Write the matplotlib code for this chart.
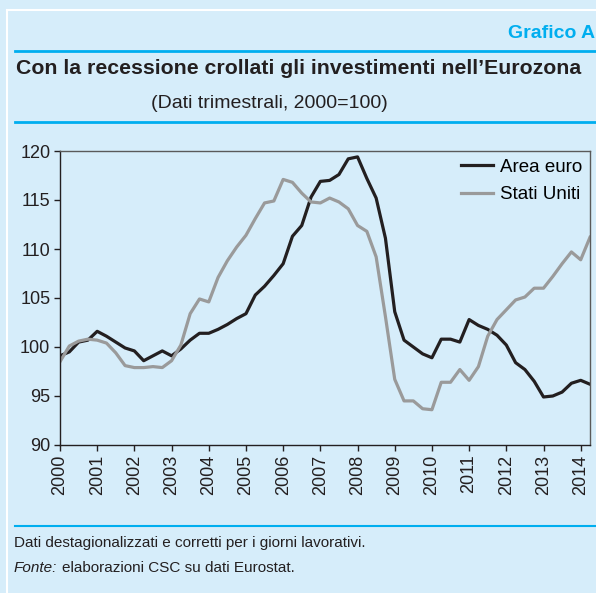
import matplotlib.pyplot as plt
import numpy as np
from matplotlib.lines import Line2D

plt.rcParams['font.family'] = ['Liberation Sans', 'DejaVu Sans']

# dati trimestrali, 2000 Q1 - 2014 Q2
quarters = np.arange(2000, 2014.26, 0.25)

area_euro = [99.1, 99.5, 100.5, 100.7, 101.6, 101.1, 100.5, 99.9,
             99.6, 98.6, 99.1, 99.6, 99.1, 99.8, 100.7, 101.4,
             101.4, 101.8, 102.3, 102.9, 103.4, 105.3, 106.2, 107.3,
             108.5, 111.3, 112.4, 115.3, 116.9, 117.0, 117.6, 119.2,
             119.4, 117.2, 115.2, 111.1, 103.6, 100.7, 100.0, 99.3,
             98.9, 100.8, 100.8, 100.5, 102.8, 102.2, 101.8, 101.2,
             100.2, 98.4, 97.7, 96.5, 94.9, 95.0, 95.4, 96.3,
             96.6, 96.2]

stati_uniti = [98.5, 100.1, 100.6, 100.8, 100.7, 100.4, 99.4, 98.1,
               97.9, 97.9, 98.0, 97.9, 98.6, 100.2, 103.4, 104.9,
               104.6, 107.1, 108.8, 110.2, 111.4, 113.1, 114.7, 114.9,
               117.1, 116.8, 115.7, 114.8, 114.7, 115.2, 114.8, 114.1,
               112.4, 111.8, 109.2, 103.1, 96.7, 94.5, 94.5, 93.7,
               93.6, 96.4, 96.4, 97.7, 96.6, 98.0, 101.1, 102.8,
               103.8, 104.8, 105.1, 106.0, 106.0, 107.2, 108.5, 109.7,
               108.9, 111.2]

anni = list(range(2000, 2015))

bg = '#d6edfa'
blu = '#00aeef'
nero = '#231f20'

W, H = 596, 593

def fx(px):
    return px / W

def fy(py):
    return 1 - py / H

fig = plt.figure(figsize=(5.96, 5.93), dpi=100)
fig.patch.set_facecolor(bg)

# cornice bianca
fig.add_artist(Line2D([fx(7), 1], [fy(9.5)] * 2, color='white', linewidth=1.5))
fig.add_artist(Line2D([fx(7)] * 2, [0, fy(9.5)], color='white', linewidth=1.5))

# intestazione
fig.text(fx(595), fy(33), 'Grafico A', ha='right', va='center',
         fontsize=14, fontweight='bold', color=blu)
fig.add_artist(Line2D([fx(15), 1], [fy(51)] * 2, color=blu, linewidth=2))
fig.text(fx(16), fy(68), 'Con la recessione crollati gli investimenti nell\u2019Eurozona',
         ha='left', va='center', fontsize=15.3, fontweight='bold', color=nero)
fig.text(fx(269), fy(103), '(Dati trimestrali, 2000=100)', ha='center',
         va='center', fontsize=14, color=nero)
fig.add_artist(Line2D([fx(15), 1], [fy(122)] * 2, color=blu, linewidth=2))

# grafico
ax = fig.add_axes([fx(60), fy(445), (590 - 60) / W, (445 - 151) / H])
ax.set_facecolor(bg)
ax.plot(quarters, area_euro, color=nero, linewidth=2.3, label='Area euro')
ax.plot(quarters, stati_uniti, color='#9a9a9a', linewidth=2.3, label='Stati Uniti')

ax.set_xlim(2000, 2014.25)
ax.set_ylim(90, 120)
ax.set_yticks(range(90, 121, 5))
ax.set_xticks(anni)
ax.set_xticklabels([str(a) for a in anni], rotation=90)
ax.tick_params(axis='both', labelsize=13, colors=nero, length=4, width=1)
ax.tick_params(axis='x', pad=3)
ax.tick_params(axis='y', pad=3)

for s in ['left', 'bottom']:
    ax.spines[s].set_color(nero)
    ax.spines[s].set_linewidth(1)
for s in ['top', 'right']:
    ax.spines[s].set_color('#5a5a5a')
    ax.spines[s].set_linewidth(1)

ax.legend(loc='upper right', frameon=False, fontsize=13.5, handlelength=1.7,
          handletextpad=0.4, borderaxespad=0.1, borderpad=0.3, labelspacing=0.55)

# piede
fig.add_artist(Line2D([fx(15), 1], [fy(526)] * 2, color=blu, linewidth=1.5))
fig.text(fx(14), fy(543), 'Dati destagionalizzati e corretti per i giorni lavorativi.',
         ha='left', va='center', fontsize=11, color=nero)
fig.text(fx(14), fy(568), 'Fonte:', ha='left', va='center', fontsize=11,
         style='italic', color=nero)
fig.text(fx(62), fy(568), 'elaborazioni CSC su dati Eurostat.', ha='left',
         va='center', fontsize=11, color=nero)

fig.savefig('out.png', dpi=100, facecolor=bg)
